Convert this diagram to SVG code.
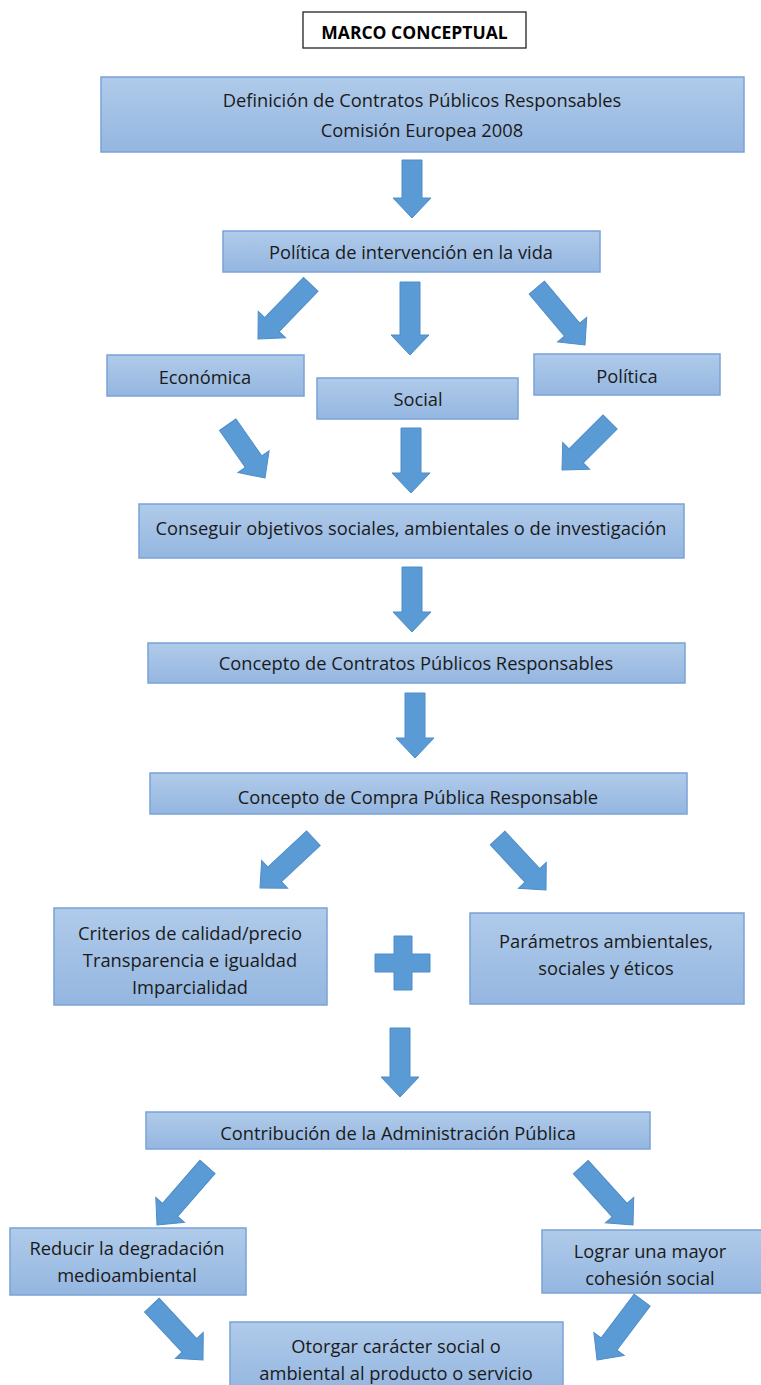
<svg xmlns="http://www.w3.org/2000/svg" width="761" height="1385" viewBox="0 0 761 1385">
<defs>
<linearGradient id="bg" x1="0" y1="0" x2="0" y2="1">
<stop offset="0" stop-color="#b0cbea"/>
<stop offset="1" stop-color="#94b6e0"/>
</linearGradient>
</defs>
<style>
.box{fill:url(#bg);stroke:#7aa3d6;stroke-width:1.5}
.t{font-family:"Open Sans","Liberation Sans",Arial,sans-serif;font-size:18.3px;fill:#1a1a1a;text-anchor:middle}
.title{font-family:"Open Sans","Liberation Sans",Arial,sans-serif;font-size:17.5px;font-weight:bold;fill:#000;text-anchor:middle}
.a{fill:#5b9bd5;stroke:#4f8cc6;stroke-width:1}
</style>
<rect width="761" height="1385" fill="#fff"/>

<g id="title">
<rect x="303" y="12" width="223" height="36" fill="#fff" stroke="#222" stroke-width="1.3"/>
<text class="title" x="414.5" y="39">MARCO CONCEPTUAL</text>
</g>

<g id="n1">
<rect class="box" x="101" y="77" width="643" height="75"/>
<text class="t" x="422" y="106.5">Definición de Contratos Públicos Responsables</text>
<text class="t" x="422" y="136.5">Comisión Europea 2008</text>
</g>
<g id="n2">
<rect class="box" x="223" y="231" width="377" height="41"/>
<text class="t" x="411" y="258.5">Política de intervención en la vida</text>
</g>
<g id="n3">
<rect class="box" x="107" y="355" width="197" height="41"/>
<text class="t" x="205" y="383.5">Económica</text>
</g>
<g id="n4">
<rect class="box" x="317" y="378" width="201" height="41"/>
<text class="t" x="418" y="405.5">Social</text>
</g>
<g id="n5">
<rect class="box" x="534" y="354" width="186" height="41"/>
<text class="t" x="627" y="382.5">Política</text>
</g>
<g id="n6">
<rect class="box" x="139" y="504" width="545" height="54"/>
<text class="t" x="411" y="534.5">Conseguir objetivos sociales, ambientales o de investigación</text>
</g>
<g id="n7">
<rect class="box" x="148" y="643" width="537" height="40"/>
<text class="t" x="416" y="669.5">Concepto de Contratos Públicos Responsables</text>
</g>
<g id="n8">
<rect class="box" x="150" y="773" width="537" height="41"/>
<text class="t" x="418" y="803.5">Concepto de Compra Pública Responsable</text>
</g>
<g id="n9">
<rect class="box" x="54" y="908" width="273" height="97"/>
<text class="t" x="190" y="939.5">Criterios de calidad/precio</text>
<text class="t" x="190" y="966.5">Transparencia e igualdad</text>
<text class="t" x="190" y="993.5">Imparcialidad</text>
</g>
<g id="plus">
<path class="a" d="M394,936 H412 V954 H430 V972 H412 V990 H394 V972 H375 V954 H394 Z"/>
</g>
<g id="n10">
<rect class="box" x="470" y="913" width="274" height="91"/>
<text class="t" x="606" y="947.5">Parámetros ambientales,</text>
<text class="t" x="606" y="974.5">sociales y éticos</text>
</g>
<g id="n11">
<rect class="box" x="146" y="1112" width="504" height="37"/>
<text class="t" x="398" y="1139.5">Contribución de la Administración Pública</text>
</g>
<g id="n12">
<rect class="box" x="10" y="1228" width="236" height="67"/>
<text class="t" x="127" y="1254.5">Reducir la degradación</text>
<text class="t" x="127" y="1281.5">medioambiental</text>
</g>
<g id="n13">
<rect class="box" x="542" y="1230" width="220" height="63"/>
<text class="t" x="650" y="1257.5">Lograr una mayor</text>
<text class="t" x="650" y="1284.5">cohesión social</text>
</g>
<g id="n14">
<rect class="box" x="230" y="1322" width="333" height="70"/>
<text class="t" x="396" y="1352.5">Otorgar carácter social o</text>
<text class="t" x="396" y="1379.5">ambiental al producto o servicio</text>
</g>

<g id="connectors">
<path class="a" transform="translate(412,218) rotate(90)" d="M0,0 L-20,-19 L-20,-10 L-58,-10 L-58,10 L-20,10 L-20,19 Z"/>
<path class="a" transform="translate(258,339) rotate(134)" d="M0,0 L-20,-19 L-20,-10 L-76,-10 L-76,10 L-20,10 L-20,19 Z"/>
<path class="a" transform="translate(410,355) rotate(90)" d="M0,0 L-20,-19 L-20,-10 L-73,-10 L-73,10 L-20,10 L-20,19 Z"/>
<path class="a" transform="translate(585,345) rotate(50)" d="M0,0 L-20,-19 L-20,-10 L-75,-10 L-75,10 L-20,10 L-20,19 Z"/>
<path class="a" transform="translate(265,478) rotate(55)" d="M0,0 L-20,-19 L-20,-10 L-65,-10 L-65,10 L-20,10 L-20,19 Z"/>
<path class="a" transform="translate(411,493) rotate(90)" d="M0,0 L-20,-19 L-20,-10 L-65,-10 L-65,10 L-20,10 L-20,19 Z"/>
<path class="a" transform="translate(562,470) rotate(135)" d="M0,0 L-20,-19 L-20,-10 L-68,-10 L-68,10 L-20,10 L-20,19 Z"/>
<path class="a" transform="translate(412,632) rotate(90)" d="M0,0 L-20,-19 L-20,-10 L-65,-10 L-65,10 L-20,10 L-20,19 Z"/>
<path class="a" transform="translate(415,758) rotate(90)" d="M0,0 L-20,-19 L-20,-10 L-65,-10 L-65,10 L-20,10 L-20,19 Z"/>
<path class="a" transform="translate(260,888) rotate(137)" d="M0,0 L-20,-19 L-20,-10 L-73,-10 L-73,10 L-20,10 L-20,19 Z"/>
<path class="a" transform="translate(546,890) rotate(47)" d="M0,0 L-20,-19 L-20,-10 L-71,-10 L-71,10 L-20,10 L-20,19 Z"/>
<path class="a" transform="translate(400,1097) rotate(90)" d="M0,0 L-20,-19 L-20,-10 L-69,-10 L-69,10 L-20,10 L-20,19 Z"/>
<path class="a" transform="translate(157,1225) rotate(131)" d="M0,0 L-20,-19 L-20,-10 L-77,-10 L-77,10 L-20,10 L-20,19 Z"/>
<path class="a" transform="translate(633,1225) rotate(48)" d="M0,0 L-20,-19 L-20,-10 L-78,-10 L-78,10 L-20,10 L-20,19 Z"/>
<path class="a" transform="translate(203,1360) rotate(47)" d="M0,0 L-20,-19 L-20,-10 L-75,-10 L-75,10 L-20,10 L-20,19 Z"/>
<path class="a" transform="translate(597,1360) rotate(127)" d="M0,0 L-20,-19 L-20,-10 L-75,-10 L-75,10 L-20,10 L-20,19 Z"/>
</g>
</svg>
